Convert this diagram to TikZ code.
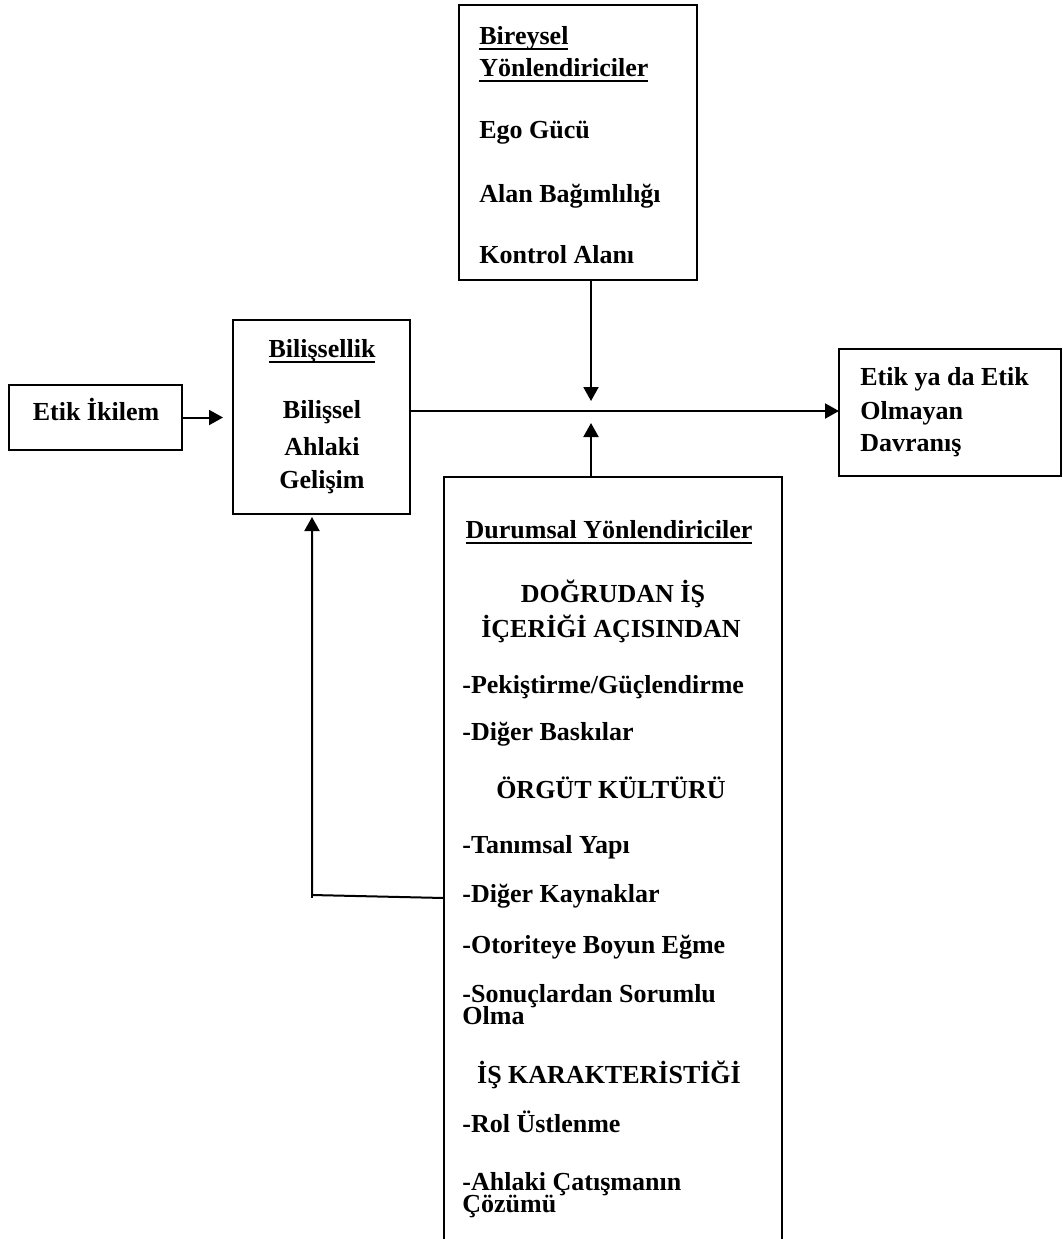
\documentclass[tikz,border=0pt]{standalone}
\usepackage{fontspec}
\setmainfont{Liberation Serif}
\usetikzlibrary{arrows.meta}
% underlined word with a fixed rule position below the baseline
\newcommand\ulword[1]{\setbox0\hbox{#1}\rlap{\rule[-2.9pt]{\wd0}{1pt}}\box0}
\begin{document}
\begin{tikzpicture}[x=0.5pt,y=-0.5pt,
  box/.style={draw,line width=1.1pt,inner sep=0pt,outer sep=0pt},
  txt/.style={inner sep=0pt,font=\bfseries\fontsize{13}{15}\selectfont},
  lft/.style={txt,anchor=base west},
  ctr/.style={txt,anchor=base},
  arr/.style={line width=1pt,-{Triangle[length=7pt,width=7.5pt]}},
  ln/.style={line width=1pt}]
\useasboundingbox (0,0) rectangle (1063,1239);
\clip (0,0) rectangle (1063,1239);

% boxes
\node[box,minimum width=119pt,minimum height=137.5pt] (ind) at (578,142.5) {};
\node[box,minimum width=86.5pt,minimum height=32.5pt] (dil) at (95.5,417.5) {};
\node[box,minimum width=88.5pt,minimum height=97pt] (cog) at (321.5,417) {};
\node[box,minimum width=111pt,minimum height=63.5pt] (beh) at (950,412.5) {};
\node[box,minimum width=169pt,minimum height=411.5pt] (sit) at (613,888.5) {};

% individual moderators
\node[lft] (i1) at (479,44) {\ulword{Bireysel}};
\node[lft] (i2) at (479,76) {\ulword{Yönlendiriciler}};
\node[lft] (i3) at (479,138) {Ego Gücü};
\node[lft] (i4) at (479,202) {Alan Bağımlılığı};
\node[lft] (i5) at (479,263) {Kontrol Alanı};

% dilemma
\node[ctr] (d1) at (96,420) {Etik İkilem};

% cognition
\node[ctr] (c1) at (322,357) {\ulword{Bilişsellik}};
\node[ctr] (c2) at (322,418) {Bilişsel};
\node[ctr] (c3) at (322,455) {Ahlaki};
\node[ctr] (c4) at (322,488) {Gelişim};

% behaviour
\node[lft] (b1) at (860,385) {Etik ya da Etik};
\node[lft] (b2) at (860,419) {Olmayan};
\node[lft] (b3) at (860,451) {Davranış};

% situational moderators
\node[ctr] (s0) at (609,538) {\ulword{Durumsal Yönlendiriciler}};
\node[ctr] (s1) at (613,602) {DOĞRUDAN İŞ};
\node[ctr] (s2) at (611,637) {İÇERİĞİ AÇISINDAN};
\node[lft] (s3) at (462,693) {-Pekiştirme/Güçlendirme};
\node[lft] (s4) at (462,740) {-Diğer Baskılar};
\node[ctr] (s5) at (611,798) {ÖRGÜT KÜLTÜRÜ};
\node[lft] (s6) at (462,853) {-Tanımsal Yapı};
\node[lft] (s7) at (462,902) {-Diğer Kaynaklar};
\node[lft] (s8) at (462,953) {-Otoriteye Boyun Eğme};
\node[lft] (s9) at (462,1002) {-Sonuçlardan Sorumlu};
\node[lft] (s10) at (462,1024) {Olma};
\node[ctr] (s11) at (609,1083) {İŞ KARAKTERİSTİĞİ};
\node[lft] (s12) at (462,1132) {-Rol Üstlenme};
\node[lft] (s13) at (462,1190) {-Ahlaki Çatışmanın};
\node[lft] (s14) at (462,1212) {Çözümü};

% connectors
\coordinate (jn) at (591,411);
\coordinate (jtop) at (591,401);
\coordinate (jbot) at (591,423);
\coordinate (fbr) at (444,898);
\coordinate (fbl) at (312,895);

\draw[arr,shorten >=5pt] (dil.east) -- (dil.east -| cog.west);
\draw[arr] (cog.east |- jn) -- (beh.west |- jn);
\draw[arr] (ind.south -| jn) -- (jtop);
\draw[arr] (sit.north -| jn) -- (jbot);
\draw[arr,shorten >=1.5pt] (fbr) -- (fbl) -- (fbl |- cog.south);
\draw[ln] (fbl) -- ++(0,3);
\end{tikzpicture}
\end{document}
